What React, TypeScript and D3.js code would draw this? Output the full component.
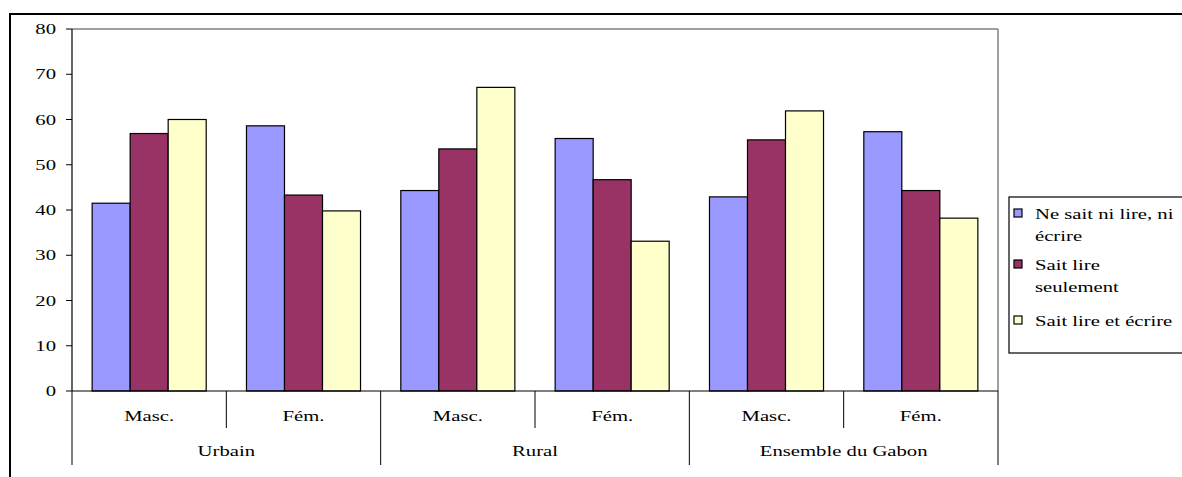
import React from "react";
import * as d3 from "d3";

const groups = ["Urbain", "Rural", "Ensemble du Gabon"];
const sexes = ["Masc.", "Fém."];
const seriesNames = ["Ne sait ni lire, ni écrire", "Sait lire seulement", "Sait lire et écrire"];
const legendLines = [["Ne sait ni lire, ni", "écrire"], ["Sait lire", "seulement"], ["Sait lire et écrire"]];
const colors = ["#9999FF", "#993366", "#FFFFCC"];
// values per category (Urbain Masc, Urbain Fém, Rural Masc, Rural Fém, Gabon Masc, Gabon Fém)
const neSaitNi = [41.5, 58.6, 44.3, 55.8, 42.9, 57.3];
const saitLireSeul = [56.9, 43.3, 53.5, 46.7, 55.5, 44.3];
const saitLireEcrire = [60.0, 39.8, 67.1, 33.1, 61.9, 38.2];
const yTicks = [0, 10, 20, 30, 40, 50, 60, 70, 80];

const SX = 1.38;

function T(props: { x: number; y: number; anchor?: string; children: React.ReactNode }) {
  return (
    <text
      transform={`translate(${props.x},${props.y}) scale(${SX},1)`}
      textAnchor={props.anchor || "start"}
      fontSize={15}
      fill="#000"
    >
      {props.children}
    </text>
  );
}

export default function App() {
  const W = 1182, H = 477;
  const left = 72, right = 998, top = 29, bottom = 391;
  const cats = groups.flatMap((g) => sexes.map((s) => `${g}|${s}`));
  const x0 = d3.scaleBand().domain(cats).range([left, right]).paddingInner(0).paddingOuter(0);
  const x1 = d3.scaleBand().domain(seriesNames.map((_, i) => String(i))).range([0, x0.bandwidth()]).paddingOuter(0.53).paddingInner(0);
  const y = d3.scaleLinear().domain([0, 80]).range([bottom, top]);
  const xg = d3.scaleBand().domain(groups).range([left, right]);
  const series = [neSaitNi, saitLireSeul, saitLireEcrire];
  const font = "'Liberation Serif', 'Times New Roman', serif";

  return (
    <svg width={W} height={H} style={{ position: "absolute", left: 0, top: 0, background: "#fff" }} fontFamily={font}>
      <rect x={10} y={14} width={W + 20} height={H + 20} fill="#fff" stroke="#000" strokeWidth={2} />
      {/* plot area border (top and right gray) */}
      <line x1={left} x2={right} y1={top} y2={top} stroke="#808080" strokeWidth={1.5} />
      <line x1={right} x2={right} y1={top} y2={bottom} stroke="#808080" strokeWidth={1.5} />
      {/* bars */}
      {series.map((vals, si) =>
        vals.map((v, ci) => (
          <rect
            key={`${si}-${ci}`}
            x={(x0(cats[ci]) as number) + (x1(String(si)) as number)}
            y={y(v)}
            width={x1.bandwidth()}
            height={y(0) - y(v)}
            fill={colors[si]}
            stroke="#000"
            strokeWidth={1.2}
          />
        ))
      )}
      {/* y axis */}
      <line x1={left} x2={left} y1={top} y2={bottom} stroke="#000" strokeWidth={1.2} />
      {yTicks.map((t) => (
        <g key={t}>
          <line x1={left - 6} x2={left} y1={y(t)} y2={y(t)} stroke="#000" strokeWidth={1} />
          <T x={56} y={y(t) + 5} anchor="end">{t}</T>
        </g>
      ))}
      {/* x axis */}
      <line x1={left} x2={right} y1={bottom} y2={bottom} stroke="#000" strokeWidth={1.2} />
      {cats.map((c, i) => (
        <g key={c}>
          {i % 2 === 1 && (
            <line x1={x0(c) as number} x2={x0(c) as number} y1={bottom} y2={428} stroke="#000" strokeWidth={1} />
          )}
          <T x={(x0(c) as number) + x0.bandwidth() / 2} y={421} anchor="middle">
            {c.split("|")[1]}
          </T>
        </g>
      ))}
      {groups.map((g, i) => (
        <g key={g}>
          <line x1={xg(g) as number} x2={xg(g) as number} y1={bottom} y2={465} stroke="#000" strokeWidth={1} />
          {i === groups.length - 1 && (
            <line x1={right} x2={right} y1={bottom} y2={465} stroke="#000" strokeWidth={1} />
          )}
          <T x={(xg(g) as number) + xg.bandwidth() / 2} y={456} anchor="middle">
            {g}
          </T>
        </g>
      ))}
      {/* legend */}
      <rect x={1009} y={197} width={200} height={156} fill="#fff" stroke="#000" strokeWidth={1.2} />
      {legendLines.map((lines, i) => {
        const cy = [213, 264, 320][i];
        return (
          <g key={i}>
            <rect x={1014} y={cy - 4} width={8} height={8} fill={colors[i]} stroke="#000" strokeWidth={1.2} />
            {lines.map((l, j) => (
              <T key={j} x={1035} y={cy + 6 + j * 22}>
                {l}
              </T>
            ))}
          </g>
        );
      })}
    </svg>
  );
}
